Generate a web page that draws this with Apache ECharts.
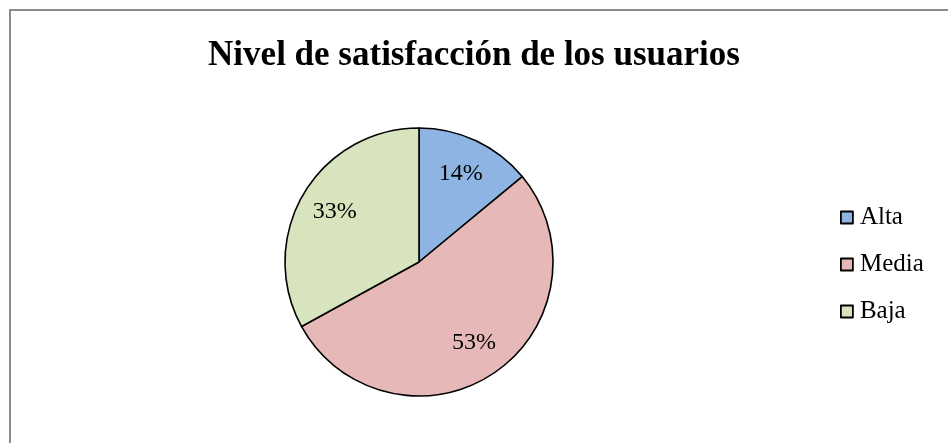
<!DOCTYPE html>
<html>
<head>
<meta charset="utf-8">
<script src="https://cdn.jsdelivr.net/npm/echarts@6/dist/echarts.min.js"></script>
<style>
  html, body { margin: 0; padding: 0; background: #fff; }
  #main { width: 948px; height: 443px; }
</style>
</head>
<body>
<div id="main"></div>
<script>
// datos del gráfico
var niveles = ['Alta', 'Media', 'Baja'];
var porcentajes = [14, 53, 33];
var colores = ['#8EB4E3', '#E6B9B8', '#D7E4BD'];

var myChart = echarts.init(document.getElementById('main'));

var datos = niveles.map(function (n, i) {
  return { name: n, value: porcentajes[i], itemStyle: { color: colores[i] } };
});

var fuente = '"Liberation Serif", "Times New Roman", serif';

var option = {
  backgroundColor: '#fff',
  animation: false,
  title: {
    text: 'Nivel de satisfacción de los usuarios',
    left: 'center',
    top: 33,
    textStyle: { fontFamily: fuente, fontSize: 35, fontWeight: 'bold', color: '#000' }
  },
  legend: {
    orient: 'vertical',
    left: 835,
    top: 200,
    icon: 'rect',
    itemWidth: 12,
    itemHeight: 12,
    itemGap: 22,
    itemStyle: { borderColor: '#000', borderWidth: 1.8 },
    textStyle: { fontFamily: fuente, fontSize: 25, lineHeight: 25, color: '#000', padding: [0, 0, 0, 2] },
    data: niveles
  },
  graphic: [{
    type: 'rect',
    shape: { x: 10, y: 10, width: 960, height: 460 },
    style: { fill: 'none', stroke: '#8c8c8c', lineWidth: 2 },
    silent: true
  }],
  series: [
    {
      type: 'pie',
      center: [419, 262],
      radius: 134,
      startAngle: 90,
      clockwise: true,
      label: { show: false },
      labelLine: { show: false },
      itemStyle: { borderColor: '#000', borderWidth: 1.6 },
      emphasis: { disabled: true },
      data: datos
    },
    {
      // serie transparente solo para colocar las etiquetas
      type: 'pie',
      center: [419, 262],
      radius: 190,
      startAngle: 90,
      clockwise: true,
      silent: true,
      legendHoverLink: false,
      itemStyle: { color: 'rgba(0,0,0,0)', borderWidth: 0 },
      label: {
        show: true,
        position: 'inside',
        formatter: '{d}%',
        fontFamily: fuente,
        fontSize: 24,
        color: '#000'
      },
      labelLine: { show: false },
      emphasis: { disabled: true },
      data: niveles.map(function (n, i) {
        return { name: n + ' ', value: porcentajes[i] };
      })
    }
  ]
};

myChart.setOption(option);
</script>
</body>
</html>
